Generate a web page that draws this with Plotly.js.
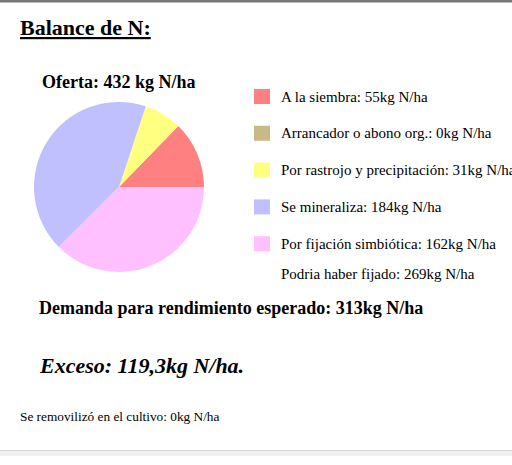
<!DOCTYPE html>
<html>
<head>
<meta charset="utf-8">
<script src="https://cdn.plot.ly/plotly-3.0.1.min.js"></script>
<style>html,body{margin:0;padding:0;background:#fff;}#chart{width:512px;height:465px;}</style>
</head>
<body>
<div id="chart"></div>
<script>
const sliceNames = ["A la siembra", "Arrancador o abono org.", "Por rastrojo y precipitación", "Se mineraliza", "Por fijación simbiótica"];
const sliceValues = [55, 0, 31, 184, 162];
const sliceColors = ["#ff8080", "#c8b987", "#ffff80", "#c0c0ff", "#ffc0ff"];
const unit = "kg N/ha";
const ofertaTotal = 432;
const podriaFijado = 269;
const demanda = 313;
const exceso = "119,3";
const removilizado = 0;

const W = 512, H = 465;
const px = x => x / W;
const py = y => 1 - y / H;
const serif = "Liberation Serif";

const annotations = [];
const shapes = [];

function addText(x, y, text, size) {
  annotations.push({xref:'paper', yref:'paper', x:px(x - 2), y:py(y), xanchor:'left', yanchor:'middle', showarrow:false,
    text:text, font:{family:serif, size:size, color:'#000'}});
}

addText(20, 27, '<b><u>Balance de N:</u></b>', 22);
addText(42, 82, '<b>Oferta: ' + ofertaTotal + ' kg N/ha</b>', 18);

sliceNames.forEach((n, i) => {
  const cy = 96.5 + i * 36.8;
  shapes.push({type:'rect', xref:'paper', yref:'paper', x0:px(254), x1:px(270), y0:py(cy - 7.5), y1:py(cy + 7.5),
    fillcolor:sliceColors[i], line:{width:0}});
  addText(281, cy, n + ': ' + sliceValues[i] + unit, 15);
});
addText(281, 274, 'Podria haber fijado: ' + podriaFijado + unit, 15);
addText(39, 308, '<b>Demanda para rendimiento esperado: ' + demanda + unit + '</b>', 18);
addText(39, 365, '<b><i>Exceso: ' + exceso + unit + '.</i></b>', 22);
addText(20, 416, 'Se removilizó en el cultivo: ' + removilizado + unit, 13.3);

// frame lines
shapes.push({type:'rect', xref:'paper', yref:'paper', x0:0, x1:1, y0:py(2.5), y1:1, fillcolor:'#777', line:{width:0}});
shapes.push({type:'rect', xref:'paper', yref:'paper', x0:0, x1:1, y0:py(451), y1:py(450), fillcolor:'#d8d8d8', line:{width:0}});
shapes.push({type:'rect', xref:'paper', yref:'paper', x0:0, x1:1, y0:py(456), y1:py(451), fillcolor:'#f0f0f0', line:{width:0}});

const data = [{
  type:'pie', values:sliceValues, labels:sliceNames, sort:false, direction:'counterclockwise', rotation:44.2,
  marker:{colors:sliceColors, line:{width:0}}, textinfo:'none', hoverinfo:'none',
  domain:{x:[px(34), px(204)], y:[py(272), py(102)]}
}];

const layout = {
  width:W, height:H, margin:{l:0, r:0, t:0, b:0}, showlegend:false,
  paper_bgcolor:'#fff', plot_bgcolor:'#fff', annotations, shapes,
  font:{family:serif}
};
Plotly.newPlot('chart', data, layout, {displayModeBar:false, staticPlot:true});
</script>
</body>
</html>
